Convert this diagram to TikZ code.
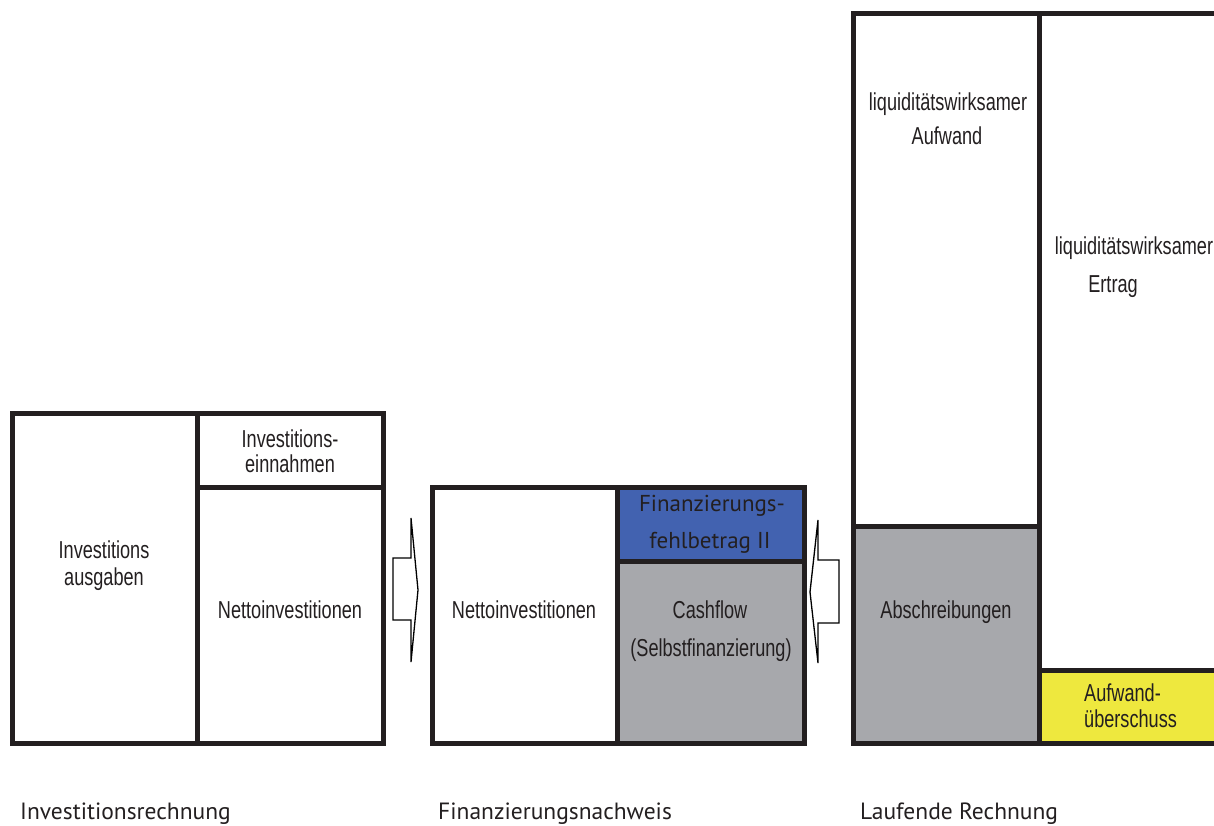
\documentclass[tikz,border=0pt]{standalone}
\usepackage{fontspec}
\newfontfamily\boxfont[FakeStretch=0.74]{Liberation Sans}
\newfontfamily\myr{PT Sans}
\definecolor{bord}{HTML}{231F20}
\definecolor{cgray}{HTML}{A7A8AC}
\definecolor{cblue}{HTML}{4262B0}
\definecolor{cyellow}{HTML}{EEE83E}
\tikzset{
  cell/.style={draw=bord, line width=5pt},
  lbl/.style={font=\boxfont\fontsize{24.5}{28}\selectfont, text=bord, inner sep=0pt, anchor=base},
  mlbl/.style={font=\myr\fontsize{23}{27}\selectfont, text=bord, inner sep=0pt, anchor=base},
  blbl/.style={font=\myr\fontsize{23.5}{27}\selectfont, text=bord, inner sep=0pt, anchor=base west},
  flow/.style={draw=black, line width=1.3pt, fill=white, line join=miter}
}
\begin{document}
\begin{tikzpicture}[x=1pt,y=-1pt]
\useasboundingbox (0,0) rectangle (1214,825);
\clip (0,0) rectangle (1214,825);
% fills
\fill[cblue] (617,487) rectangle (804,561);
\fill[cgray] (617,561) rectangle (804,743);
\fill[cgray] (853,526) rectangle (1039,743);
\fill[cyellow] (1039,670) rectangle (1240,743);
% left group
\draw[cell] (12,413) rectangle (383,743);
\draw[cell] (197,413) -- (197,743);
\draw[cell] (197,487) -- (383,487);
% middle group
\draw[cell] (432,487) rectangle (804,743);
\draw[cell] (617,487) -- (617,743);
\draw[cell] (617,561) -- (804,561);
% right group
\draw[cell] (853,13) rectangle (1240,743);
\draw[cell] (1039,13) -- (1039,743);
\draw[cell] (853,526) -- (1039,526);
\draw[cell] (1039,670) -- (1240,670);
% arrows
\draw[flow] (393,558) -- (411,558) -- (411,518) -- (418,590) -- (411,662) -- (411,620) -- (393,620) -- cycle;
\draw[flow] (839,560) -- (818,560) -- (818,520) -- (810,592) -- (818,663) -- (818,623) -- (839,623) -- cycle;
% texts
\node[lbl] (ia1) at (104,558) {Investitions};
\node[lbl] (ia2) at (104,585) {ausgaben};
\node[lbl] (ie1) at (290,447) {Investitions-};
\node[lbl] (ie2) at (290,472) {einnahmen};
\node[lbl] (ni1) at (290,618) {Nettoinvestitionen};
\node[lbl] (ni2) at (524,618) {Nettoinvestitionen};
\node[mlbl] (fb1) at (712,511) {Finanzierungs-};
\node[mlbl] (fb2) at (710,548) {fehlbetrag II};
\node[lbl] (cf1) at (710,618) {Cashflow};
\node[lbl] (cf2) at (711,656) {(Selbstfinanzierung)};
\node[lbl] (la1) at (948,110) {liquiditätswirksamer};
\node[lbl] (la2) at (947,144) {Aufwand};
\node[lbl] (le1) at (1134,254) {liquiditätswirksamer};
\node[lbl] (le2) at (1113,292) {Ertrag};
\node[lbl] (ab) at (946,618) {Abschreibungen};
\node[lbl, anchor=base west] (au1) at (1084,701) {Aufwand-};
\node[lbl, anchor=base west] (au2) at (1084,727) {überschuss};
\node[blbl] (r1) at (20,819) {Investitionsrechnung};
\node[blbl] (r2) at (438,819) {Finanzierungsnachweis};
\node[blbl] (r3) at (860,819) {Laufende Rechnung};
\end{tikzpicture}
\end{document}
